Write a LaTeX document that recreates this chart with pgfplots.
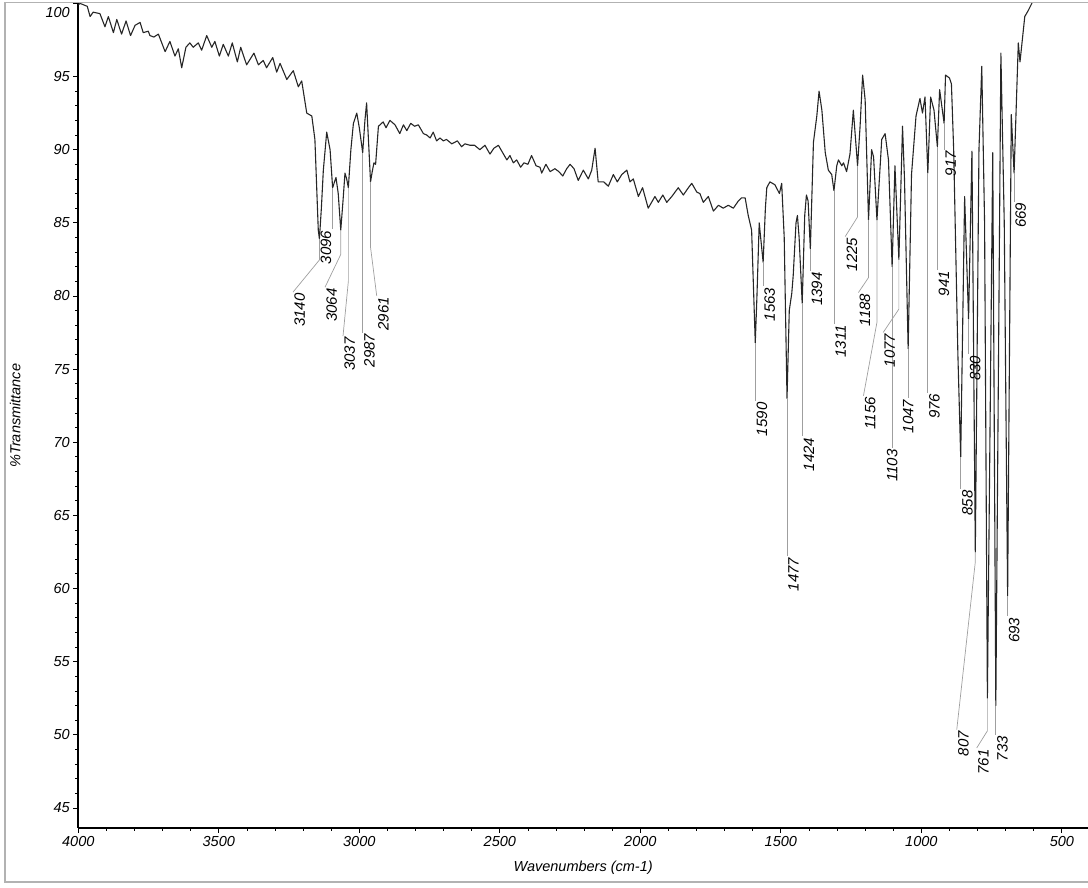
\documentclass[border=0pt]{standalone}
\usepackage{pgfplots}
\pgfplotsset{compat=1.18}
\usepackage{fontspec}
\setmainfont{Liberation Sans}

% peak label: [anchor]{peak wn}{min T}{bend T}{label wn}{label T}{text}
\newcommand\pkt[7][north east]{%
  \draw[leader] (#2,#3) -- (#2,#4) -- (#5,#6) node[lbl,anchor=#1] {#7};}

\begin{document}
\begin{tikzpicture}[
  leader/.style={gray!75, line width=0.7pt},
  lbl/.style={rotate=90, inner sep=1pt, font=\itshape\fontsize{15}{18}\selectfont, text=black}]
\begin{axis}[
  at={(0,0)}, anchor=south west,
  scale only axis, width=1009.7pt, height=824.6pt,
  x dir=reverse,
  xmin=407, xmax=4000, ymin=43.63, ymax=100,
  axis x line*=bottom, axis y line*=left,
  axis line style={line width=1.6pt, black},
  tick align=outside,
  major tick length=5pt, minor tick length=3pt,
  every tick/.style={black, line width=0.8pt},
  xtick={500,1000,...,4000}, minor x tick num=4,
  ytick={45,50,...,95}, minor y tick num=4,
  extra y ticks={100},
  extra y tick style={yticklabel style={yshift=-9pt}},
  /pgf/number format/assume math mode=true,
  /pgf/number format/1000 sep={},
  ticklabel style={font=\itshape\fontsize{14.5}{17}\selectfont},
  xlabel={Wavenumbers (cm-1)}, ylabel={\%Transmittance},
  every axis x label/.style={at={(axis description cs:0.5,0)}, anchor=center, yshift=-40pt,
    font=\itshape\fontsize{14.5}{17}\selectfont},
  every axis y label/.style={at={(axis description cs:0,0.5)}, anchor=center, xshift=-63pt, rotate=90,
    font=\itshape\fontsize{14.5}{17}\selectfont},
]
\addplot[black!85, line width=1.1pt, line join=round, no marks] coordinates {
(4000,99.9) (3994,100.0) (3968,99.8) (3958,99.1) (3947,99.4) (3923,99.3) (3905,98.4)
(3893,99.1) (3875,98.0) (3863,98.9) (3846,97.9) (3830,98.8) (3814,97.8) (3798,98.5)
(3780,98.7) (3769,98.0) (3751,98.1) (3745,97.8) (3731,97.7) (3715,97.9) (3691,96.7)
(3674,97.4) (3656,96.4) (3644,96.9) (3632,95.6) (3617,97.0) (3603,97.3) (3591,97.0)
(3573,97.3) (3561,96.8) (3543,97.8) (3525,97.0) (3514,97.4) (3498,96.4) (3484,97.2)
(3466,96.4) (3452,97.3) (3434,96.0) (3422,97.0) (3401,95.8) (3375,96.6) (3359,95.8)
(3342,96.1) (3330,95.6) (3308,96.3) (3294,95.3) (3282,95.9) (3258,94.8) (3235,95.4)
(3217,94.3) (3205,94.7) (3187,92.5) (3169,92.3) (3158,90.7) (3146,84.5) (3142,83.9)
(3135,86.0) (3128,88.6) (3116,91.2) (3104,90.0) (3095,87.4) (3083,88.1) (3075,87.0)
(3066,84.5) (3058,86.5) (3051,88.4) (3045,88.0) (3039,87.4) (3030,90.0) (3021,91.8)
(3009,92.5) (3000,91.5) (2988,89.8) (2980,92.0) (2974,93.2) (2967,90.5) (2960,87.8)
(2954,88.5) (2948,89.1) (2942,89.0) (2932,91.6) (2915,91.9) (2905,91.5) (2891,92.0)
(2873,91.7) (2856,91.1) (2843,91.7) (2831,91.3) (2817,91.8) (2803,91.6) (2790,91.7)
(2772,91.1) (2760,91.0) (2748,90.8) (2737,91.2) (2725,90.6) (2713,90.8) (2701,90.6)
(2690,90.7) (2671,90.4) (2651,90.6) (2636,90.2) (2624,90.4) (2606,90.3) (2590,90.3)
(2571,90.0) (2553,90.3) (2535,89.7) (2521,90.1) (2505,90.3) (2493,89.9) (2475,89.3)
(2464,89.6) (2452,89.1) (2440,89.3) (2426,88.8) (2414,89.1) (2400,89.0) (2387,89.6)
(2371,88.9) (2357,88.8) (2351,88.4) (2336,89.0) (2321,88.5) (2304,88.7) (2290,88.5)
(2276,88.2) (2262,88.7) (2250,89.0) (2236,88.7) (2221,87.9) (2203,88.6) (2185,88.0)
(2173,88.6) (2161,90.1) (2150,87.8) (2130,87.8) (2114,87.5) (2096,88.3) (2082,87.8)
(2066,88.3) (2048,88.6) (2037,87.8) (2025,88.0) (2007,86.8) (1992,87.4) (1972,86.0)
(1948,86.8) (1936,86.4) (1920,86.9) (1906,86.4) (1888,86.8) (1865,87.4) (1847,86.9)
(1829,87.4) (1817,87.7) (1799,87.1) (1788,87.0) (1776,86.4) (1758,86.8) (1740,85.8)
(1722,86.2) (1705,86.0) (1687,86.2) (1669,86.0) (1651,86.5) (1640,86.7) (1627,86.7)
(1616,85.5) (1604,84.5) (1591,76.8) (1585,80.0) (1577,85.0) (1563,82.3) (1555,86.0)
(1550,87.4) (1539,87.8) (1521,87.6) (1505,87.0) (1497,87.7) (1488,84.0) (1478,73.0)
(1470,79.0) (1461,80.2) (1456,81.4) (1446,85.0) (1441,85.5) (1435,84.0) (1424,79.5)
(1415,85.5) (1409,86.9) (1403,86.5) (1395,83.2) (1384,90.5) (1372,92.3) (1364,94.0)
(1354,92.7) (1342,89.8) (1331,88.6) (1319,88.3) (1311,87.2) (1301,88.9) (1295,89.3)
(1283,88.9) (1277,89.1) (1266,88.5) (1254,89.7) (1242,92.7) (1227,88.9) (1218,91.6)
(1209,95.1) (1200,93.4) (1188,85.2) (1177,90.0) (1170,89.5) (1158,85.2) (1141,90.7)
(1129,91.1) (1117,89.3) (1104,82.0) (1094,88.9) (1080,82.5) (1067,91.6) (1060,88.0)
(1047,76.4) (1035,88.3) (1019,92.3) (1005,93.5) (996,92.5) (987,93.6) (977,88.4)
(967,93.6) (955,92.7) (943,90.2) (935,94.1) (919,91.8) (914,95.1) (900,94.9)
(893,94.5) (885,90.0) (870,76.0) (860,69.0) (846,86.8) (832,78.4) (820,89.9)
(808,62.5) (795,90.0) (785,95.7) (775,85.0) (765,52.5) (746,89.8) (735,52.0)
(717,96.6) (705,85.0) (693,59.5) (680,92.4) (670,88.4) (655,97.3) (649,96.0)
(632,99.1) (620,99.5) (607,100.0) (600,100.3)
};
\pkt{3142}{83.9}{82.46}{3236}{80.26}{3140}
\pkt[south east]{3095}{87.4}{84.55}{3095}{84.55}{3096}
\pkt{3066}{84.5}{82.84}{3122}{80.6}{3064}
\pkt{3039}{87.4}{81.0}{3058}{77.26}{3037}
\pkt{2988}{89.8}{77.5}{2988}{77.5}{2987}
\pkt{2960}{87.8}{83.32}{2938}{80.0}{2961}
\pkt{1591}{76.8}{72.8}{1591}{72.8}{1590}
\pkt{1563}{82.3}{80.66}{1563}{80.66}{1563}
\pkt{1478}{73.0}{62.2}{1478}{62.2}{1477}
\pkt{1424}{79.5}{70.4}{1424}{70.4}{1424}
\pkt{1395}{83.2}{81.7}{1395}{81.7}{1394}
\pkt{1311}{87.2}{78.1}{1311}{78.1}{1311}
\pkt{1227}{88.9}{85.4}{1271}{84.06}{1225}
\pkt{1188}{85.2}{81.26}{1224}{80.23}{1188}
\pkt{1158}{85.2}{78.2}{1206}{73.18}{1156}
\pkt[east]{1104}{82.0}{69.6}{1104}{69.6}{1103}
\pkt{1080}{82.5}{79.1}{1136}{77.5}{1077}
\pkt[east]{1047}{76.4}{73.0}{1047}{73.0}{1047}
\pkt{977}{88.4}{73.4}{977}{73.4}{976}
\pkt{943}{90.2}{81.8}{943}{81.8}{941}
\pkt{919}{91.8}{90.0}{919}{90.0}{917}
\pkt{860}{69.0}{66.8}{860}{66.8}{858}
\pkt{832}{78.4}{76.0}{832}{76.0}{830}
\pkt{808}{62.5}{61.82}{874}{50.35}{807}
\pkt{765}{52.5}{50.27}{803}{49.1}{761}
\pkt{735}{52.0}{50.0}{735}{50.0}{733}
\pkt{693}{59.5}{58.1}{693}{58.1}{693}
\pkt{670}{88.4}{86.45}{670}{86.45}{669}
\end{axis}
\pgfresetboundingbox
\path[use as bounding box] (-78.3pt,-60pt) rectangle (1009.7pt,828pt);
\draw[gray!60, line width=1.5pt] (-73.3pt,-54pt) rectangle (1030pt,825.5pt);
\end{tikzpicture}
\end{document}
